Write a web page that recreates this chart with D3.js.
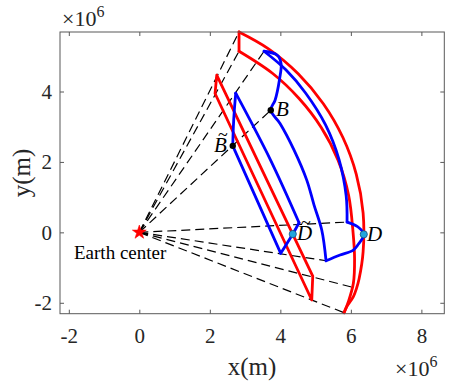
<!DOCTYPE html>
<html>
<head>
<meta charset="utf-8">
<script src="https://cdn.jsdelivr.net/npm/d3@7"></script>
<style>
body { margin: 0; background: #fff; }
</style>
</head>
<body>
<div id="chart"></div>
<script>
// values in units of 1e6 m
var xTicks = [-2, 0, 2, 4, 6, 8];
var yTicks = [-2, 0, 2, 4];

// red, far footprint (Earth surface arc + inner arc)
var redOuterArc = [[2.828,5.691],[3.654,5.219],[4.505,4.505],[5.219,3.654],[5.774,2.693],[6.154,1.649],[6.347,0.555],[6.347,-0.555],[6.232,-1.325],[6.16,-1.59],[6.071,-1.827],[5.884,-2.111],[5.807,-2.281]];
var redTopEdge = [[2.828,5.691],[2.828,5.143]];
var redInnerArc = [[2.828,5.143],[3.784,4.511],[4.531,3.801],[5.160,2.979],[5.637,2.051],[5.937,1.047],[6.062,0],[6.105,-0.749],[6.071,-1.447],[5.929,-1.969],[5.807,-2.281]];

// red, projected footprint
var redNear = [[2.196,4.463],[4.919,-1.240],[4.891,-1.921],[2.148,3.943],[2.196,4.463]];

// blue, far region
var blueArc = [[3.537,5.143],[4.156,4.616],[4.715,3.957],[5.282,3.050],[5.665,2.062],[5.867,1.035],[5.892,0.292]];
var blueD = [[5.892,0.292],[6.195,0.159],[6.366,-0.057],[6.195,-0.360],[6.071,-0.502],[5.694,-0.644],[5.296,-0.806]];
var blueB = [[5.296,-0.806],[5.174,0.065],[4.956,0.774],[4.749,1.484],[4.389,2.335],[3.991,3.092],[3.728,3.469],[3.850,3.753],[3.972,4.321],[4.020,4.794],[3.915,5.030],[3.537,5.143]];

// blue, projected region
var blueNearRight = [[2.735,3.952],[3.722,2.051],[4.530,0.272]];
var blueNearBottom = [[4.530,0.272],[4.352,-0.048],[4.011,-0.596]];
var blueNearLeft = [[4.011,-0.596],[2.650,2.457]];
var blueNearTop = [[2.650,2.457],[2.667,2.996],[2.695,3.470],[2.735,3.952]];

// dashed rays from the Earth center
var rayEnds = [[2.828,5.691],[2.828,5.143],[3.537,5.143],[3.728,3.469],[5.892,0.292],[5.296,-0.806],[6.16,-1.59],[5.807,-2.281]];

var blackPts = [{name:"B", p:[3.728,3.469]}, {name:"Bt", p:[2.650,2.457]}];
var cyanPts = [{name:"D", p:[6.366,-0.057]}, {name:"Dt", p:[4.352,-0.048]}];

(function () {
var width = 458, height = 387;
var left = 60, right = 444.3, top = 32, bottom = 313.7;
var serif = "'Liberation Serif', 'Times New Roman', serif";

var svg = d3.select("#chart").append("svg")
	.attr("width", width)
	.attr("height", height);

var x = d3.scaleLinear().domain([-2.25, 8.65]).range([left, right]);
var y = d3.scaleLinear().domain([-2.31, 5.69]).range([bottom, top]);

var line = d3.line()
	.x(function(d){ return x(d[0]); })
	.y(function(d){ return y(d[1]); })
	.curve(d3.curveCatmullRom.alpha(0.5));

var straight = d3.line()
	.x(function(d){ return x(d[0]); })
	.y(function(d){ return y(d[1]); });

// dashed rays
svg.selectAll(".ray")
	.data(rayEnds)
	.enter().append("path")
	.attr("class", "ray")
	.attr("d", function(d){ return straight([[0,0], d]); })
	.attr("fill", "none")
	.attr("stroke", "#000")
	.attr("stroke-width", 1.2)
	.attr("stroke-dasharray", "9,5");

function drawEdges(edges, color, curved) {
	svg.selectAll(null)
	.data(edges)
	.enter().append("path")
	.attr("d", function(d){ return curved ? line(d) : straight(d); })
	.attr("fill", "none")
	.attr("stroke", color)
	.attr("stroke-width", 2.8)
	.attr("stroke-linejoin", "round")
	.attr("stroke-linecap", "round");
}

drawEdges([redOuterArc, redTopEdge, redInnerArc], "#ff0000", true);
drawEdges([redNear], "#ff0000", false);
drawEdges([blueArc, blueD, blueB, blueNearRight, blueNearBottom, blueNearTop], "#0000ff", true);
drawEdges([blueNearLeft], "#0000ff", false);

// Earth center star
svg.append("path")
	.attr("d", d3.symbol(d3.symbolStar).size(60))
	.attr("transform", "translate(" + x(0) + "," + y(0) + ")")
	.attr("fill", "#ff0000")
	.attr("stroke", "#ff0000")
	.attr("stroke-width", 0.6);

svg.append("text")
	.attr("x", 74).attr("y", 259)
	.style("font-family", serif)
	.style("font-size", "19px")
	.attr("fill", "#000")
	.text("Earth center");

// points
svg.selectAll(".bpt")
	.data(blackPts)
	.enter().append("circle")
	.attr("cx", function(d){ return x(d.p[0]); })
	.attr("cy", function(d){ return y(d.p[1]); })
	.attr("r", 3.2)
	.attr("fill", "#000");

svg.selectAll(".cpt")
	.data(cyanPts)
	.enter().append("circle")
	.attr("cx", function(d){ return x(d.p[0]); })
	.attr("cy", function(d){ return y(d.p[1]); })
	.attr("r", 3.6)
	.attr("fill", "#22a6dc")
	.attr("stroke", "#1b4e7e")
	.attr("stroke-width", 0.8);

// point labels
function label(xp, yp, letter, tilde) {
	var t = svg.append("text")
		.attr("x", xp).attr("y", yp)
		.style("font-family", serif)
		.style("font-size", "21px")
		.style("font-style", "italic")
		.attr("fill", "#000")
		.text(letter);
	if (tilde) {
		t.append("tspan")
		.attr("x", xp + 4).attr("dy", -11)
		.style("font-size", "18px")
		.style("font-style", "normal")
		.text("~");
	}
}
label(276, 116, "B", false);
label(214, 152, "B", true);
label(297, 240, "D", true);
label(367, 241, "D", false);

// axes box
svg.append("rect")
	.attr("x", left).attr("y", top)
	.attr("width", right - left).attr("height", bottom - top)
	.attr("fill", "none")
	.attr("stroke", "#595959")
	.attr("stroke-width", 1);

var fmt = function(d){ return String(d); };

function styleAxis(g) {
	g.attr("font-family", null).attr("font-size", null);
	g.select(".domain").remove();
	g.selectAll(".tick line").attr("stroke", "#595959");
	g.selectAll(".tick text")
		.attr("fill", "#262626")
		.style("font-size", "21px")
		.style("font-family", serif);
}

svg.append("g").attr("transform", "translate(0," + bottom + ")")
	.call(d3.axisBottom(x).tickValues(xTicks).tickSize(-4).tickPadding(14).tickFormat(fmt))
	.call(styleAxis);
svg.append("g").attr("transform", "translate(0," + top + ")")
	.call(d3.axisTop(x).tickValues(xTicks).tickSize(-4).tickFormat(""))
	.call(styleAxis);
svg.append("g").attr("transform", "translate(" + left + ",0)")
	.call(d3.axisLeft(y).tickValues(yTicks).tickSize(-4).tickPadding(8).tickFormat(fmt))
	.call(styleAxis);
svg.append("g").attr("transform", "translate(" + right + ",0)")
	.call(d3.axisRight(y).tickValues(yTicks).tickSize(-4).tickFormat(""))
	.call(styleAxis);

// exponent labels
function expo(xp, yp) {
	var t = svg.append("text")
		.attr("x", xp).attr("y", yp)
		.style("font-family", serif)
		.style("font-size", "22px")
		.attr("fill", "#262626");
	t.append("tspan").text("\u00d710");
	t.append("tspan").style("font-size", "16px").attr("dy", -9).text("6");
}
expo(62, 26);
expo(395, 376);

// axis titles
svg.append("text")
	.attr("x", 252).attr("y", 375)
	.attr("text-anchor", "middle")
	.style("font-family", serif)
	.style("font-size", "25px")
	.attr("fill", "#262626")
	.text("x(m)");

svg.append("text")
	.attr("transform", "translate(30,173) rotate(-90)")
	.attr("text-anchor", "middle")
	.style("font-family", serif)
	.style("font-size", "25px")
	.attr("fill", "#262626")
	.text("y(m)");
})();
</script>
</body>
</html>
